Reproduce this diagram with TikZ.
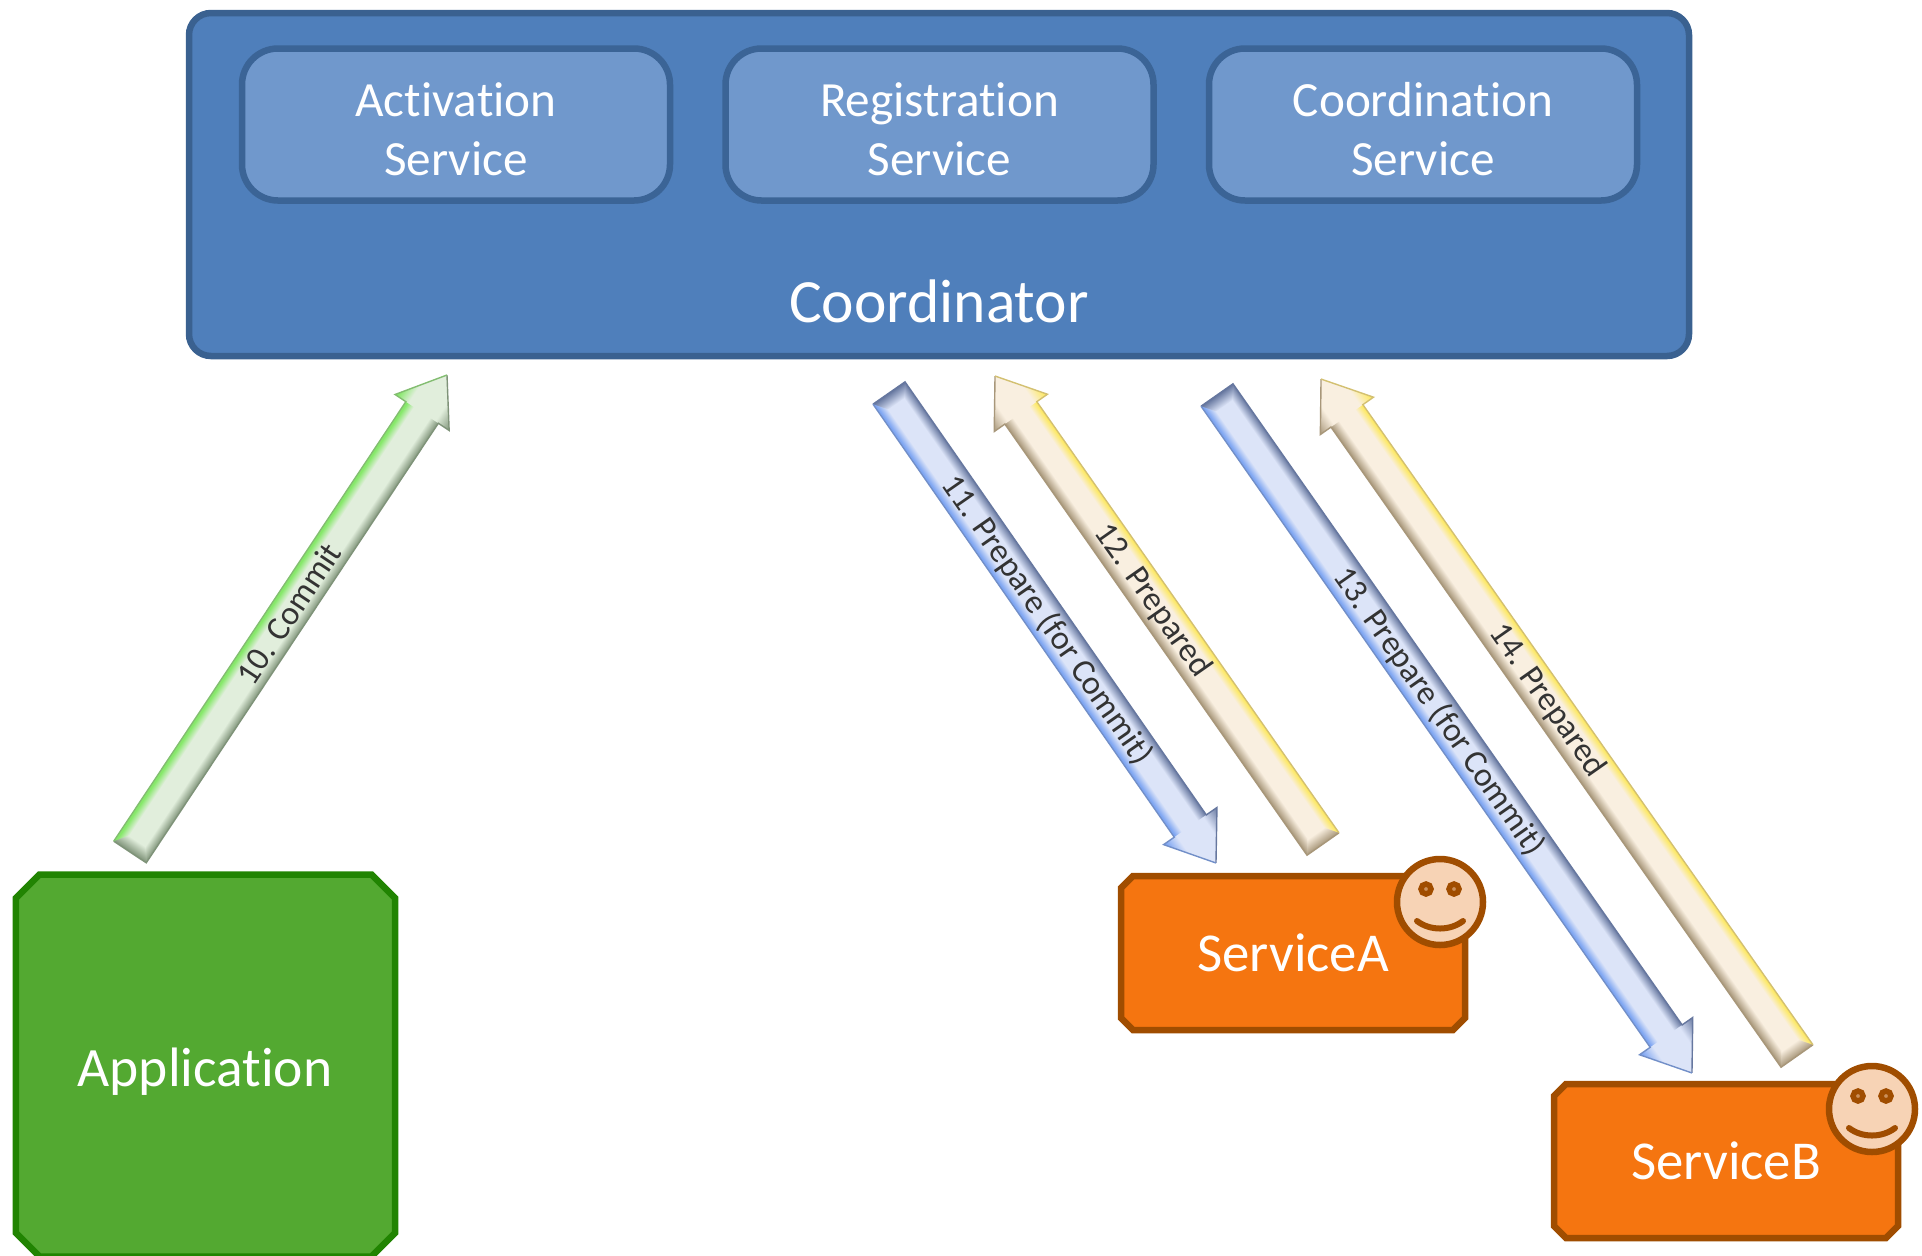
\documentclass[tikz,border=0pt]{standalone}
\usepackage{fontspec}
\setmainfont{Carlito}[Ligatures=NoCommon]
\usetikzlibrary{calc,shapes.misc}

\definecolor{coordfill}{HTML}{4F7FBB}
\definecolor{coordline}{HTML}{3A6190}
\definecolor{servfill}{HTML}{7098CC}
\definecolor{servline}{HTML}{3B6496}
\definecolor{appfill}{HTML}{53A931}
\definecolor{appline}{HTML}{218402}
\definecolor{partfill}{HTML}{F57510}
\definecolor{partline}{HTML}{A04D00}
\definecolor{facefill}{HTML}{F7D3B5}
\definecolor{bluepale}{HTML}{DCE4F8}
\definecolor{blueedge}{HTML}{7FA6F2}
\definecolor{bluedark}{HTML}{66779F}
\definecolor{yellowpale}{HTML}{F9EFE0}
\definecolor{yellowedge}{HTML}{FDE968}
\definecolor{yellowdark}{HTML}{A8977A}
\definecolor{greenpale}{HTML}{E1EEDC}
\definecolor{greenedge}{HTML}{86E86A}
\definecolor{greendark}{HTML}{7F9379}

\pgfdeclareverticalshading{bevelblue}{100bp}{color(0bp)=(blueedge); color(27bp)=(blueedge);
  color(37bp)=(bluepale); color(62bp)=(bluepale); color(75bp)=(bluedark); color(100bp)=(bluedark)}
\pgfdeclareverticalshading{bevelyellow}{100bp}{color(0bp)=(yellowedge); color(27bp)=(yellowedge);
  color(37bp)=(yellowpale); color(62bp)=(yellowpale); color(75bp)=(yellowdark); color(100bp)=(yellowdark)}
\pgfdeclareverticalshading{bevelgreen}{100bp}{color(0bp)=(greenedge); color(27bp)=(greenedge);
  color(37bp)=(greenpale); color(62bp)=(greenpale); color(75bp)=(greendark); color(100bp)=(greendark)}

\tikzset{
  coordbox/.style={draw=coordline,fill=coordfill,line width=0.065cm,rounded corners=0.22cm,minimum width=15.0cm,minimum height=3.43cm},
  servbox/.style={draw=servline,fill=servfill,line width=0.065cm,rounded corners=0.36cm,minimum width=4.28cm,minimum height=1.52cm,
    text=white,align=center,font=\fontsize{14}{16.8}\selectfont},
  chambox/.style={chamfered rectangle,line width=0.065cm,text=white,font=\fontsize{15.6}{18}\selectfont},
  appbox/.style={chambox,draw=appline,fill=appfill,chamfered rectangle xsep=0.3cm,chamfered rectangle ysep=0.3cm,minimum width=3.79cm,minimum height=3.82cm},
  partbox/.style={chambox,draw=partline,fill=partfill,chamfered rectangle xsep=0.06cm,chamfered rectangle ysep=0.06cm,minimum width=3.44cm,minimum height=1.54cm},
  steplabel/.style={sloped,inner sep=0pt,text=black!80,font=\fontsize{9.6}{12}\selectfont},
  smiley/.pic={
    \node[circle,draw=partline,fill=facefill,line width=0.065cm,minimum size=0.86cm,inner sep=0pt] {};
    \foreach \side in {-1,1}
      \fill[facefill!50!partline,draw=partline,line width=0.055cm] (\side*0.14,0.13) circle (0.05);
    \draw[partline,line width=0.06cm,line cap=round] (-0.23,-0.19) .. controls (-0.1,-0.29) and (0.1,-0.29) .. (0.23,-0.19);
  }
}

\newcommand{\servlabel}[1]{\rule{0pt}{0.44cm}#1\\Service}

\newcommand{\blockarrow}[4]{
  \path let \p1=($(#2)-(#1)$), \n1={atan2(\y1,\x1)}, \n2={veclen(\x1,\y1)} in
    \pgfextra{\pgfmathsetmacro\tmpangle{\n1}\pgfmathsetmacro\tmplen{\n2/28.4528}\xdef\arrowangle{\tmpangle}\xdef\arrowlen{\tmplen}};
  \begin{scope}[transform canvas={shift={(#1)},rotate=\arrowangle,yscale=#4}]
    \shade[shading=bevel#3] (0,-0.195) rectangle (\arrowlen-0.42,0.195);
    \shade[shading=bevel#3] (\arrowlen-0.45,-0.325) -- (\arrowlen,0) -- (\arrowlen-0.45,0.325) -- cycle;
    \shade[left color=#3dark,right color=#3pale] (0,-0.195) -- (0.13,-0.1) -- (0.13,0.1) -- (0,0.195) -- cycle;
    \draw[#3dark,line width=0.014cm,line join=miter] (\arrowlen,0) -- (\arrowlen-0.45,0.325) -- (\arrowlen-0.45,0.195) -- (0,0.195) -- (0,-0.195);
    \draw[#3dark!50!#3edge,line width=0.014cm,line join=miter] (0,-0.195) -- (\arrowlen-0.45,-0.195) -- (\arrowlen-0.45,-0.325) -- (\arrowlen,0);
  \end{scope}
}

\begin{document}
\begin{tikzpicture}
  \useasboundingbox (0,0) rectangle (19.22,-12.55);

  % coordinator
  \node[coordbox] (coordinator) at (9.39,-1.845) {};
  \node[servbox] (activation) at (4.56,-1.245) {\servlabel{Activation}};
  \node[servbox] (registration) at (9.395,-1.245) {\servlabel{Registration}};
  \node[servbox] (coordination) at (14.23,-1.245) {\servlabel{Coordination}};
  \node[text=white,font=\fontsize{17.5}{20}\selectfont] (coordtext) at (9.39,-3.01) {Coordinator};

  % participants
  \node[appbox] (application) at (2.055,-10.655) {};
  \node[text=white,font=\fontsize{15.8}{18}\selectfont] (apptext) at (2.05,-10.72) {Application};
  \node[partbox] (servicea) at (12.93,-9.53) {ServiceA};
  \node[partbox] (serviceb) at (17.26,-11.61) {ServiceB};
  \pic at (14.4,-9.02) {smiley};
  \pic at (18.72,-11.09) {smiley};

  % arrow ends
  \coordinate (c10a) at (1.30,-8.52);
  \coordinate (c10b) at (4.47,-3.75);
  \coordinate (c11a) at (8.89,-3.93);
  \coordinate (c11b) at (12.16,-8.63);
  \coordinate (c12a) at (13.23,-8.44);
  \coordinate (c12b) at (9.95,-3.76);
  \coordinate (c13a) at (12.17,-3.95);
  \coordinate (c13b) at (16.92,-10.73);
  \coordinate (c14a) at (17.97,-10.56);
  \coordinate (c14b) at (13.21,-3.79);

  \blockarrow{c10a}{c10b}{green}{-1}
  \blockarrow{c11a}{c11b}{blue}{1}
  \blockarrow{c12a}{c12b}{yellow}{1}
  \blockarrow{c13a}{c13b}{blue}{1}
  \blockarrow{c14a}{c14b}{yellow}{1}

  \path (c10a) -- (c10b) node[steplabel,pos=0.5] (step10) {10. Commit};
  \path (c11a) -- (c11b) node[steplabel,pos=0.483] (step11) {11. Prepare (for Commit)};
  \path (c12a) -- (c12b) node[steplabel,pos=0.52] (step12) {12. Prepared};
  \path (c13a) -- (c13b) node[steplabel,pos=0.467] (step13) {13. Prepare (for Commit)};
  \path (c14a) -- (c14b) node[steplabel,pos=0.525] (step14) {14. Prepared};
\end{tikzpicture}
\end{document}
